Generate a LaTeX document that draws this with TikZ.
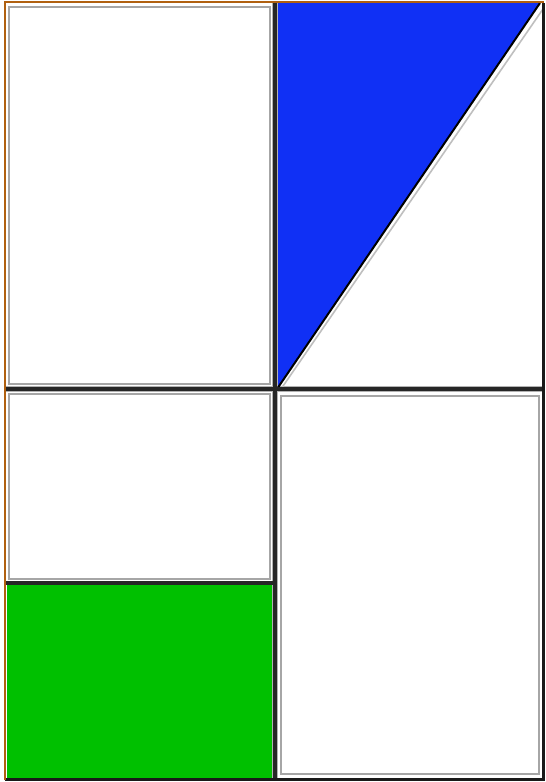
\documentclass[tikz,border=0pt]{standalone}
\definecolor{frameBrown}{RGB}{176,96,16}
\definecolor{triBlue}{RGB}{16,48,245}
\definecolor{boxGreen}{RGB}{0,192,0}
\tikzset{
  panel/.style={draw=black!35, line width=1.4pt},
  dividerflank/.style={draw=black!30, line width=6pt},
  divider/.style={draw=black!85, line width=3.2pt},
  outerdark/.style={draw=black!90, line width=2.6pt},
}
\begin{document}
\begin{tikzpicture}[x=1pt,y=-1pt]
\useasboundingbox (0,0) rectangle (546,782);
\fill[white] (0,0) rectangle (546,782);
% panels
\draw[panel, fill=white] (9,7) rectangle (270,384);
\draw[panel, fill=white] (9,394) rectangle (270,579);
\fill[boxGreen] (7,585) rectangle (274,778);
\draw[panel, fill=white] (281,396) rectangle (539,774);
% blue triangle
\fill[triBlue] (277,3) -- (540,3) -- (277,389) -- cycle;
% dividers (gray flanks first)
\draw[dividerflank] (5,389) -- (543,389);
\draw[dividerflank] (275,3) -- (275,780);
\fill[triBlue] (278,3) -- (540,3) -- (278,386) -- cycle;
\draw[black!25, line width=1.6pt] (543,9) -- (281,389);
\draw[black, line width=2pt] (540,3) -- (277,389);
\draw[divider] (5,389) -- (543,389);
\draw[divider] (275,3) -- (275,780);
\draw[divider] (5,583) -- (275,583);
% outer frame
\draw[outerdark] (543.5,3) -- (543.5,779.5) -- (5,779.5);
\draw[frameBrown, line width=2.4pt] (5,780) -- (5,2) -- (544,2);
\end{tikzpicture}
\end{document}
